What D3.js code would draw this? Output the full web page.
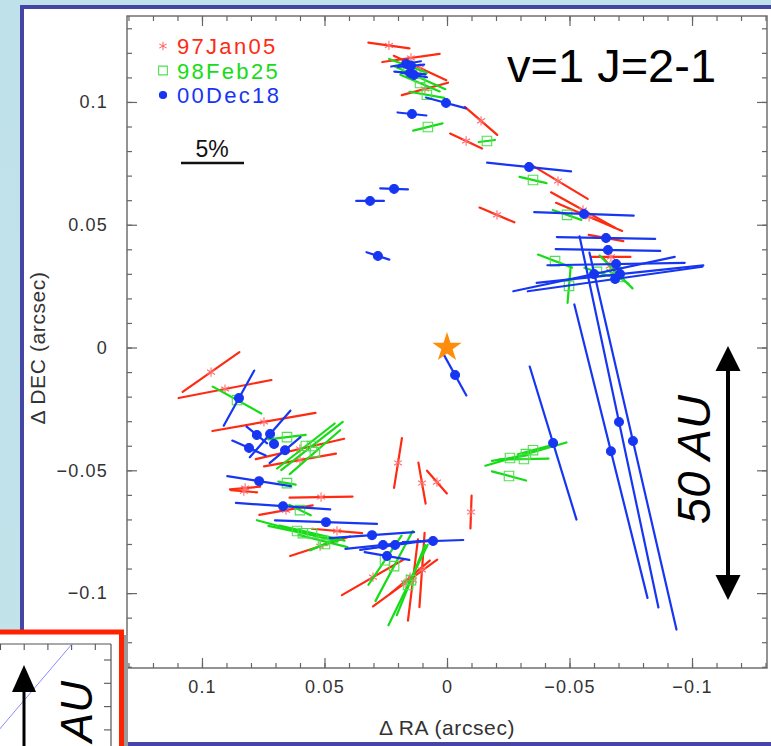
<!DOCTYPE html>
<html>
<head>
<meta charset="utf-8">
<script src="https://cdn.jsdelivr.net/npm/d3@7"></script>
<style>
  html, body { margin: 0; padding: 0; overflow: hidden; background: #c0e2ea; }
  svg { display: block; }
</style>
</head>
<body>
<svg id="chart" width="771" height="746"></svg>
<script>
// ---- Polarization vectors, SiO v=1 J=2-1 maser spots (offsets in arcsec, pol in %, PA in deg E of N)
const epochNames = ["97Jan05", "98Feb25", "00Dec18"];

const jan97Ra  = [0.0237,0.0147,0.0110,0.0090,-0.0139,-0.0078,-0.0453,-0.0204,-0.0555,-0.0580,-0.0649,-0.0669,-0.0665,0.0963,0.0906,0.0747,0.0600,0.0600,0.0824,0.0829,0.0514,0.0657,0.0449,0.0518,0.0200,0.0102,0.0041,-0.0098,0.0302,0.0171,0.0139,0.0102,0.0151];
const jan97Dec = [0.1230,0.1179,0.1138,0.1053,0.0923,0.0841,0.0678,0.0540,0.0560,0.0532,0.0446,0.0369,0.0332,-0.0100,-0.0169,-0.0303,-0.0413,-0.0458,-0.0572,-0.0585,-0.0609,-0.0662,-0.0747,-0.0809,-0.0470,-0.0552,-0.0548,-0.0670,-0.0935,-0.0959,-0.0947,-0.0906,-0.0935];
const jan97Pol = [3.3,4.6,4.6,3.8,3.4,2.8,5.5,3.0,5.8,5.7,2.8,3.1,1.8,5.5,7.5,8.3,7.2,5.8,2.4,2.1,5.0,4.3,4.0,5.0,4.0,3.3,2.4,2.6,5.7,6.3,6.5,5.9,4.1];
const jan97Pa  = [82,98,65,105,49,65,59,67,61,67,80,90,40,125,101,100,103,100,95,85,91,100,85,108,171,10,41,178,120,126,173,176,130];

const feb98Ra  = [0.0159,0.0110,0.0110,0.0082,0.0078,-0.0163,-0.0351,-0.0490,-0.0441,-0.0498,-0.0690,-0.0612,-0.0698,0.0857,0.0653,0.0576,0.0551,0.0539,0.0653,0.0600,0.0612,0.0588,0.0551,0.0506,0.0498,0.0253,0.0216,0.0159,0.0147,-0.0322,-0.0314,-0.0257,-0.0253,-0.0351];
const feb98Dec = [0.1147,0.1098,0.1077,0.1029,0.0898,0.0841,0.0682,0.0540,0.0352,0.0251,0.0308,0.0308,0.0287,-0.0214,-0.0365,-0.0401,-0.0401,-0.0426,-0.0552,-0.0662,-0.0747,-0.0756,-0.0756,-0.0788,-0.0800,-0.0866,-0.0890,-0.0967,-0.0947,-0.0434,-0.0454,-0.0450,-0.0523,-0.0418];
const feb98Pol = [3.2,4.4,3.4,2.8,2.4,1.3,2.2,2.4,2.9,2.7,3.7,2.1,2.0,4.4,3.0,5.8,6.2,5.3,1.4,1.9,6.6,5.6,5.3,4.0,2.6,4.7,6.3,7.1,6.0,6.7,3.9,2.9,2.8,2.5];
const feb98Pa  = [70,66,67,80,104,97,77,71,69,175,45,72,57,61,97,128,128,131,80,64,75,78,77,76,113,146,152,154,158,106,91,99,75,105];

const dec00Ra  = [0.0167,0.0147,0.0151,0.0135,0.0004,0.0143,0.0216,0.0314,0.0282,-0.0335,-0.0559,-0.0649,-0.0657,-0.0690,-0.0600,-0.0686,-0.0706,-0.0702,-0.0759,-0.0669,-0.0433,-0.0033,0.0849,0.0776,0.0722,0.0808,0.0706,0.0661,0.0767,0.0669,0.0494,0.0306,0.0261,0.0245,0.0057,0.0212];
const dec00Dec = [0.1155,0.1147,0.1118,0.1110,0.0996,0.0951,0.0646,0.0597,0.0373,0.0735,0.0544,0.0446,0.0397,0.0340,0.0299,0.0279,0.0299,-0.0303,-0.0381,-0.0422,-0.0389,-0.0112,-0.0206,-0.0356,-0.0352,-0.0409,-0.0393,-0.0418,-0.0544,-0.0646,-0.0711,-0.0764,-0.0804,-0.0849,-0.0788,-0.0804];
const dec00Pol = [2.4,2.1,2.5,2.1,3.3,2.3,2.2,2.2,1.9,6.7,7.9,7.8,8.3,10.9,13.1,14.0,13.3,30.1,30.7,24.0,12.7,3.7,5.0,2.1,4.9,2.9,0.6,3.2,5.1,7.5,8.1,6.7,6.0,3.6,4.8,5.6];
const dec00Pa  = [100,95,85,80,75,84,88,90,72,84,88,89,89,91,102,98,96,12,13,14,17,29,151,51,139,66,60,130,81,86,88,94,96,80,92,98];

// axis ticks
const majorTicks = [0.1, 0.05, 0, -0.05, -0.1];
const minorTicks = d3.range(-13, 14).map(i => i / 100);
const refPol = 5;          // length of the scale bar, in percent

// ---- scales
const x = d3.scaleLinear().domain([0.1306, -0.1306]).range([127, 767]);
const y = d3.scaleLinear().domain([-0.1305, 0.1350]).range([668, 16]);
const polLen = d3.scaleLinear().domain([0, refPol]).range([0, 63]);

const svg = d3.select("#chart");
const sans = "'Liberation Sans', Arial, Helvetica, sans-serif";

// slide background
const defs = svg.append("defs");
const bg = defs.append("linearGradient").attr("id", "bg").attr("x1", 0).attr("y1", 0).attr("x2", 0).attr("y2", 1);
bg.append("stop").attr("offset", 0).attr("stop-color", "#bfe1e9");
bg.append("stop").attr("offset", 1).attr("stop-color", "#c3e3eb");
svg.append("rect").attr("width", 771).attr("height", 746).attr("fill", "url(#bg)");

// framed panel
svg.append("rect").attr("x", 22).attr("y", 7).attr("width", 820).attr("height", 737)
  .attr("fill", "#fff").attr("stroke", "#4545a6").attr("stroke-width", 4);

defs.append("clipPath").attr("id", "plotClip").append("rect")
  .attr("x", 127).attr("y", 16).attr("width", 640).attr("height", 652);

// ---- axes (ticks point inward on all four sides)
function styleAxis(g) {
  g.select(".domain").remove();
  g.selectAll(".tick line").attr("stroke", "#666").attr("stroke-width", 1.2);
  g.selectAll("text").attr("font-family", sans).attr("font-size", 18)
    .attr("fill", "#333").attr("letter-spacing", 1.2);
}
const fmt = d => d === 0 ? "0" : d3.format("")(d);

svg.append("g").attr("transform", "translate(0,668)")
  .call(d3.axisBottom(x).tickValues(minorTicks).tickSize(-5).tickFormat("")).call(styleAxis);
svg.append("g").attr("transform", "translate(0,668)")
  .call(d3.axisBottom(x).tickValues(majorTicks).tickSize(-10).tickPadding(12).tickFormat(fmt)).call(styleAxis);
svg.append("g").attr("transform", "translate(0,16)")
  .call(d3.axisTop(x).tickValues(minorTicks).tickSize(-5).tickFormat("")).call(styleAxis);
svg.append("g").attr("transform", "translate(0,16)")
  .call(d3.axisTop(x).tickValues(majorTicks).tickSize(-10).tickFormat("")).call(styleAxis);
svg.append("g").attr("transform", "translate(127,0)")
  .call(d3.axisLeft(y).tickValues(minorTicks).tickSize(-5).tickFormat("")).call(styleAxis);
svg.append("g").attr("transform", "translate(127,0)")
  .call(d3.axisLeft(y).tickValues(majorTicks).tickSize(-10).tickPadding(19).tickFormat(fmt)).call(styleAxis);
svg.append("g").attr("transform", "translate(767,0)")
  .call(d3.axisRight(y).tickValues(minorTicks).tickSize(-5).tickFormat("")).call(styleAxis);
svg.append("g").attr("transform", "translate(767,0)")
  .call(d3.axisRight(y).tickValues(majorTicks).tickSize(-10).tickFormat("")).call(styleAxis);

svg.append("rect").attr("x", 127).attr("y", 16).attr("width", 640).attr("height", 652)
  .attr("fill", "none").attr("stroke", "#666").attr("stroke-width", 1.4);

svg.append("text").attr("x", 447).attr("y", 735).attr("text-anchor", "middle")
  .attr("font-family", sans).attr("font-size", 21).attr("letter-spacing", 0.6).attr("fill", "#333")
  .text("Δ RA (arcsec)");
svg.append("text").attr("transform", "translate(45,348) rotate(-90)").attr("text-anchor", "middle")
  .attr("font-family", sans).attr("font-size", 21).attr("letter-spacing", 0.6).attr("fill", "#333")
  .text("Δ DEC (arcsec)");

// ---- polarization vectors
const epochs = [
  { name: epochNames[0], ra: jan97Ra, dec: jan97Dec, pol: jan97Pol, pa: jan97Pa,
    line: "#ff2a12", mark: "#ff6a6a", sym: d3.symbolAsterisk, size: 60, fill: "none" },
  { name: epochNames[1], ra: feb98Ra, dec: feb98Dec, pol: feb98Pol, pa: feb98Pa,
    line: "#16dc16", mark: "#4fe04f", sym: d3.symbolSquare, size: 90, fill: "none" },
  { name: epochNames[2], ra: dec00Ra, dec: dec00Dec, pol: dec00Pol, pa: dec00Pa,
    line: "#1736f2", mark: "#1736f2", sym: d3.symbolCircle, size: 62, fill: "#1736f2" }
];

const plot = svg.append("g").attr("clip-path", "url(#plotClip)");

epochs.forEach(ep => {
  const pts = ep.ra.map((r, i) => ({ ra: r, dec: ep.dec[i], pol: ep.pol[i], pa: ep.pa[i] }));
  const g = plot.append("g");
  g.selectAll("line").data(pts).join("line")
    .attr("x1", d => x(d.ra) - polLen(d.pol) / 2 * Math.sin(d.pa * Math.PI / 180))
    .attr("y1", d => y(d.dec) - polLen(d.pol) / 2 * Math.cos(d.pa * Math.PI / 180))
    .attr("x2", d => x(d.ra) + polLen(d.pol) / 2 * Math.sin(d.pa * Math.PI / 180))
    .attr("y2", d => y(d.dec) + polLen(d.pol) / 2 * Math.cos(d.pa * Math.PI / 180))
    .attr("stroke", ep.line).attr("stroke-width", 2.2).attr("stroke-linecap", "round");
  g.selectAll("path").data(pts).join("path")
    .attr("transform", d => `translate(${x(d.ra)},${y(d.dec)})`)
    .attr("d", d3.symbol(ep.sym, ep.size))
    .attr("fill", ep.fill).attr("stroke", ep.mark).attr("stroke-width", 1.1);
});

// central star
plot.append("path").attr("transform", `translate(${x(0)},${y(0)})`)
  .attr("d", d3.symbol(d3.symbolStar, 270)).attr("fill", "#ff8c0a");

// ---- legend
epochs.forEach((ep, i) => {
  const ly = 46 + i * 24.5;
  svg.append("path").attr("transform", `translate(163,${ly})`)
    .attr("d", d3.symbol(ep.sym, i === 2 ? 40 : ep.size * 0.85))
    .attr("fill", ep.fill).attr("stroke", ep.mark).attr("stroke-width", 1.1);
  svg.append("text").attr("x", 177).attr("y", ly + 8)
    .attr("font-family", sans).attr("font-size", 22).attr("letter-spacing", 2.3)
    .attr("fill", ep.line).text(ep.name);
});

// scale bar
svg.append("text").attr("x", 212).attr("y", 157).attr("text-anchor", "middle")
  .attr("font-family", sans).attr("font-size", 23).attr("fill", "#111").text(refPol + "%");
svg.append("line").attr("x1", 181).attr("x2", 181 + polLen(refPol)).attr("y1", 163).attr("y2", 163)
  .attr("stroke", "#111").attr("stroke-width", 2.6);

// transition label
svg.append("text").attr("x", 507).attr("y", 82)
  .attr("font-family", sans).attr("font-size", 47).attr("fill", "#000").text("v=1 J=2-1");

// 50 AU size arrow
function arrowHead(x0, tipY, dir, half, len) {
  return `M${x0},${tipY} L${x0 - half},${tipY + dir * len} L${x0 + half},${tipY + dir * len} Z`;
}
svg.append("line").attr("x1", 728).attr("x2", 728).attr("y1", 368).attr("y2", 578)
  .attr("stroke", "#000").attr("stroke-width", 4);
svg.append("path").attr("d", arrowHead(728, 346, 1, 12.5, 25)).attr("fill", "#000");
svg.append("path").attr("d", arrowHead(728, 600, -1, 12.5, 25)).attr("fill", "#000");
svg.append("text").attr("transform", "translate(710,395) rotate(-90)").attr("text-anchor", "end")
  .attr("font-family", sans).attr("font-size", 47).attr("font-style", "italic").attr("fill", "#000")
  .text("50 AU");

// ---- inset panel at lower left
const inset = svg.append("g");
inset.append("rect").attr("x", -10).attr("y", 632).attr("width", 131.5).attr("height", 130)
  .attr("fill", "#fff").attr("stroke", "#ff2200").attr("stroke-width", 5);
inset.append("rect").attr("x", 124).attr("y", 635).attr("width", 4).attr("height", 111).attr("fill", "#9a9a9a");
defs.append("clipPath").attr("id", "insetClip").append("rect")
  .attr("x", 0).attr("y", 635).attr("width", 119).attr("height", 111);
const ins = inset.append("g").attr("clip-path", "url(#insetClip)");
ins.append("line").attr("x1", 0).attr("x2", 111).attr("y1", 644).attr("y2", 644).attr("stroke", "#555").attr("stroke-width", 1.2);
ins.append("line").attr("x1", 111).attr("x2", 111).attr("y1", 644).attr("y2", 746).attr("stroke", "#555").attr("stroke-width", 1.2);
ins.selectAll(".tx").data(d3.range(0, 5)).join("line")
  .attr("x1", i => 0.5 + i * 23.7).attr("x2", i => 0.5 + i * 23.7).attr("y1", 644).attr("y2", 650)
  .attr("stroke", "#555").attr("stroke-width", 1.1);
ins.selectAll(".ty").data(d3.range(0, 4)).join("line")
  .attr("x1", 104).attr("x2", 111).attr("y1", i => 660 + i * 23.3).attr("y2", i => 660 + i * 23.3)
  .attr("stroke", "#555").attr("stroke-width", 1.1);
ins.append("line").attr("x1", 72).attr("y1", 644).attr("x2", -2).attr("y2", 731)
  .attr("stroke", "#8a8aff").attr("stroke-width", 1);
ins.append("line").attr("x1", 24).attr("x2", 24).attr("y1", 688).attr("y2", 750)
  .attr("stroke", "#000").attr("stroke-width", 3);
ins.append("path").attr("d", arrowHead(24, 665, 1, 12, 27)).attr("fill", "#000");
ins.append("text").attr("transform", "translate(92,681) rotate(-90)").attr("text-anchor", "end")
  .attr("font-family", sans).attr("font-size", 44).attr("font-style", "italic").attr("fill", "#000")
  .text("AU");
</script>
</body>
</html>
